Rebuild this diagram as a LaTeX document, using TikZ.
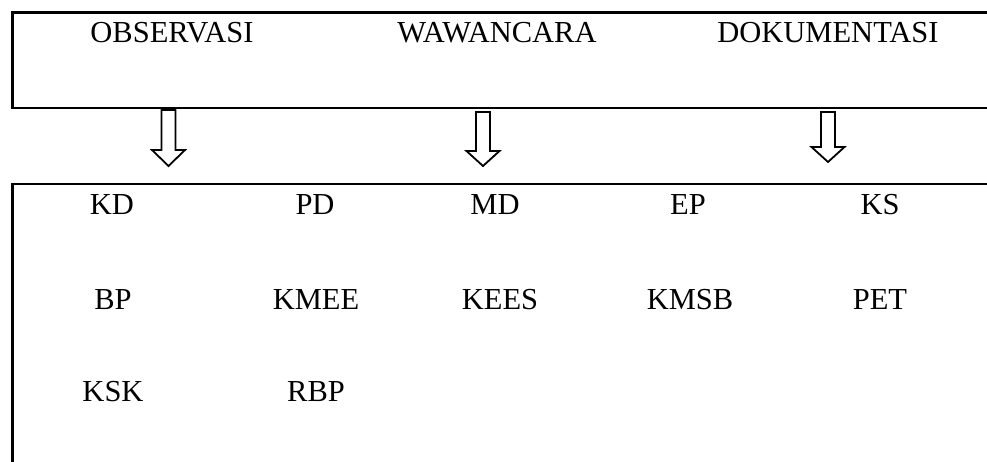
\documentclass[tikz,border=0pt]{standalone}
\usepackage{fontspec}
\setmainfont{Liberation Serif}
\usepackage{tikz}
\usetikzlibrary{positioning}

\tikzset{
  boxline/.style={line width=2.6pt},
  label/.style={inner sep=0pt, font=\fontsize{30.5}{36}\selectfont},
  hollowarrow/.style={draw, line width=1.8pt, line join=miter, fill=white}
}

\begin{document}
\begin{tikzpicture}[x=1pt, y=-1pt]
  \useasboundingbox (0,0) rectangle (987,462);

  % upper box, open at the right
  \draw[boxline] (990,12.7) -- (12.7,12.7) -- (12.7,108) -- (990,108);
  \node[label] at (172,32.5) (obs) {OBSERVASI};
  \node[label] at (497,32.5) (waw) {WAWANCARA};
  \node[label] at (828,32.5) (dok) {DOKUMENTASI};

  % lower box, open at the right and bottom
  \draw[boxline] (990,184) -- (12.7,184) -- (12.7,465);

  % hollow arrows between the boxes
  \foreach \c/\t/\h/\p in {168.5/110/150/166, 483/112/151/166, 828/112/147/162} {
      \draw[hollowarrow] (\c-7,\t) -- (\c+7,\t) -- (\c+7,\h) -- (\c+16.5,\h)
        -- (\c,\p) -- (\c-16.5,\h) -- (\c-7,\h) -- cycle;
  };

  \foreach \lbl/\x/\y in {KD/112/205, PD/315/205, MD/495/205, EP/688/205, KS/880/205,
                          BP/113/300, KMEE/316/300, KEES/500/300, KMSB/690/300, PET/880/300,
                          KSK/113/392, RBP/316/392} {
      \node[label] at (\x,\y) (\lbl) {\lbl};
  };
\end{tikzpicture}
\end{document}
